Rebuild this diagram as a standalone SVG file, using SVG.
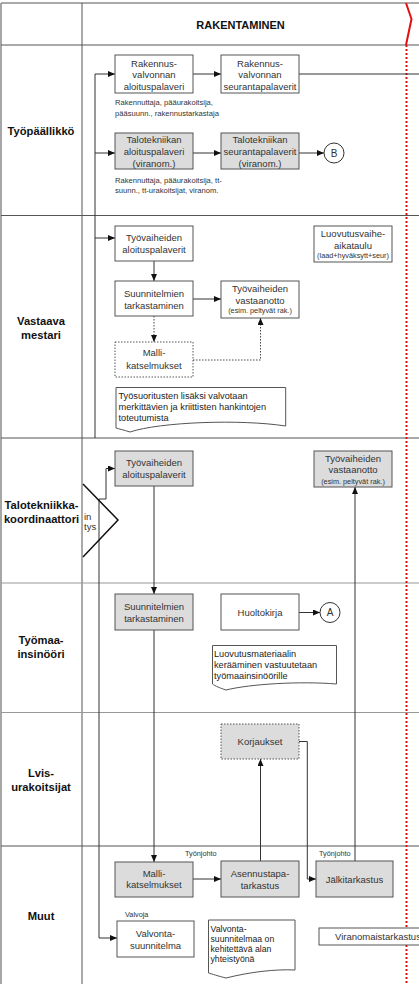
<svg xmlns="http://www.w3.org/2000/svg" width="419" height="984" viewBox="0 0 419 984">
<defs>
<marker id="a" markerWidth="7" markerHeight="6" refX="7" refY="3" orient="auto" markerUnits="userSpaceOnUse"><path d="M0,0 L7,3 L0,6z" fill="#111"/></marker>
<clipPath id="clipR"><rect x="0" y="0" width="419" height="984"/></clipPath>
</defs>
<style>
.bx{fill:#fff;stroke:#555;stroke-width:1}
.gb{fill:#dcdcdc;stroke:#555;stroke-width:1}
.dt{stroke-dasharray:1.5 1.5}
.t{font-family:"Liberation Sans",Arial,sans-serif;font-size:9.5px;fill:#333;text-anchor:middle}
.s{font-family:"Liberation Sans",Arial,sans-serif;font-size:7.3px;fill:#333;text-anchor:middle}
.sl{font-family:"Liberation Sans",Arial,sans-serif;font-size:7.6px;fill:#333}
.d{font-family:"Liberation Sans",Arial,sans-serif;font-size:9.2px;fill:#222}
.ln{font-family:"Liberation Sans",Arial,sans-serif;font-size:11.2px;font-weight:bold;fill:#111;text-anchor:middle}
.g{stroke:#555;stroke-width:1;fill:none}
.c{stroke:#333;stroke-width:1;fill:none}
.cd{stroke:#444;stroke-width:1;fill:none;stroke-dasharray:1.5 1.5}
</style>
<rect x="0" y="0" width="419" height="984" fill="#fff"/>
<g id="grid">
<line x1="1" y1="3" x2="419" y2="3" stroke="#aaa" stroke-width="2"/>
<line x1="1" y1="3" x2="1" y2="984" stroke="#888" stroke-width="1.5"/>
<line x1="82" y1="3" x2="82" y2="984" class="g"/>
<line x1="1" y1="45" x2="419" y2="45" class="g"/>
<line x1="1" y1="215.5" x2="419" y2="215.5" class="g"/>
<line x1="1" y1="438" x2="419" y2="438" class="g"/>
<line x1="1" y1="583" x2="419" y2="583" stroke="#999" stroke-width="1"/>
<line x1="1" y1="712.5" x2="419" y2="712.5" stroke="#999" stroke-width="1"/>
<line x1="1" y1="846" x2="419" y2="846" class="g"/>
<polyline points="406,3 411.5,19 406,45" fill="none" stroke="#e01010" stroke-width="2"/>
<line x1="406.5" y1="45" x2="406.5" y2="984" stroke="#e01010" stroke-width="2" stroke-dasharray="2 2"/>
<text x="240.5" y="28.5" class="ln" style="font-size:11px">RAKENTAMINEN</text>
</g>
<g id="lanes">
<text x="41" y="135" class="ln">Työpäällikkö</text>
<text x="41" y="324.5" class="ln">Vastaava</text>
<text x="41" y="339" class="ln">mestari</text>
<text x="41.5" y="509" class="ln">Talotekniikka-</text>
<text x="41.5" y="522.7" class="ln">koordinaattori</text>
<text x="41" y="644.3" class="ln">Työmaa-</text>
<text x="41" y="658" class="ln">insinööri</text>
<text x="41" y="777.3" class="ln">Lvis-</text>
<text x="41" y="790.7" class="ln">urakoitsijat</text>
<text x="41" y="920" class="ln">Muut</text>
</g>
<g id="connectors">
<polyline points="95,438 95,74 115,74" class="c" marker-end="url(#a)"/>
<line x1="95" y1="153" x2="115" y2="153" class="c" marker-end="url(#a)"/>
<line x1="95" y1="238" x2="115" y2="238" class="c" marker-end="url(#a)"/>
<line x1="193" y1="74" x2="221" y2="74" class="c" marker-end="url(#a)"/>
<line x1="299" y1="74" x2="419" y2="74" class="c"/>
<line x1="193" y1="153" x2="221" y2="153" class="c" marker-end="url(#a)"/>
<line x1="299" y1="153" x2="324" y2="153" class="c" marker-end="url(#a)"/>
<line x1="154" y1="261" x2="154" y2="281" class="c" marker-end="url(#a)"/>
<line x1="193" y1="299" x2="221" y2="299" class="c" marker-end="url(#a)"/>
<line x1="154" y1="316" x2="154" y2="342" class="cd" marker-end="url(#a)"/>
<polyline points="193,360 260.5,360 260.5,318" class="cd" marker-end="url(#a)"/>
<polyline points="106,499 106,468.5 115,468.5" class="c" marker-end="url(#a)"/>
<polyline points="106,499 99,499 99,938 117,938" class="c" marker-end="url(#a)"/>
<polyline points="83,484 118,520 83,557" fill="none" stroke="#111" stroke-width="1.5"/>
<line x1="154" y1="486" x2="154" y2="594" class="c" marker-end="url(#a)"/>
<line x1="355" y1="861" x2="355" y2="487" class="c" marker-end="url(#a)"/>
<line x1="299" y1="612.5" x2="320" y2="612.5" class="c" marker-end="url(#a)"/>
<line x1="154" y1="630" x2="154" y2="862" class="c" marker-end="url(#a)"/>
<line x1="260.5" y1="861" x2="260.5" y2="759" class="c" marker-end="url(#a)"/>
<polyline points="299,741.5 307.3,741.5 307.3,879 316,879" class="c" marker-end="url(#a)"/>
<line x1="193" y1="879" x2="221" y2="879" class="c" marker-end="url(#a)"/>
</g>
<g id="n-rv-aloitus"><rect x="115" y="55" width="78" height="38" class="bx"/>
<text class="t" x="154" y="66.7">Rakennus-</text><text class="t" x="154" y="78.4">valvonnan</text><text class="t" x="154" y="90">aloituspalaveri</text></g>
<g id="n-rv-seuranta"><rect x="221" y="55" width="78" height="38" class="bx"/>
<text class="t" x="260" y="66.7">Rakennus-</text><text class="t" x="260" y="78.4">valvonnan</text><text class="t" x="260" y="90">seurantapalaverit</text></g>
<g id="note1"><text class="sl" x="115" y="105">Rakennuttaja, pääurakoitsija,</text><text class="sl" x="115" y="115.5">pääsuunn., rakennustarkastaja</text></g>
<g id="n-tt-aloitus"><rect x="115" y="133" width="78" height="36" class="gb"/>
<text class="t" x="154" y="143.2">Talotekniikan</text><text class="t" x="154" y="155">aloituspalaveri</text><text class="t" x="154" y="166.6">(viranom.)</text></g>
<g id="n-tt-seuranta"><rect x="221" y="133" width="78" height="36" class="gb"/>
<text class="t" x="260" y="143.2">Talotekniikan</text><text class="t" x="260" y="155">seurantapalaverit</text><text class="t" x="260" y="166.6">(viranom.)</text></g>
<g id="n-B"><circle cx="334" cy="153" r="10" fill="#fff" stroke="#333"/><text class="t" x="334" y="156.8" style="font-size:10px">B</text></g>
<g id="note2"><text class="sl" x="115" y="183">Rakennuttaja, pääurakoitsija, tt-</text><text class="sl" x="115" y="192.5">suunn., tt-urakoitsijat, viranom.</text></g>
<g id="n-vm-aloitus"><rect x="115" y="226" width="78" height="35" class="bx"/>
<text class="t" x="154" y="241.4">Työvaiheiden</text><text class="t" x="154" y="252.6">aloituspalaverit</text></g>
<g id="n-vm-suunn"><rect x="115" y="281" width="78" height="35" class="bx"/>
<text class="t" x="154" y="297.4">Suunnitelmien</text><text class="t" x="154" y="309">tarkastaminen</text></g>
<g id="n-vm-vastaanotto"><rect x="221" y="281" width="78" height="37" class="bx"/>
<text class="t" x="260" y="292.4">Työvaiheiden</text><text class="t" x="260" y="304">vastaanotto</text><text class="s" x="260" y="313.4">(esim. peltyvät rak.)</text></g>
<g id="n-luovutus"><rect x="314" y="226" width="78" height="36" class="bx"/>
<text class="t" x="353" y="237.4">Luovutusvaihe-</text><text class="t" x="353" y="248.6">aikataulu</text><text class="s" x="353" y="258.4">(laad+hyväksytt+seur)</text></g>
<g id="n-vm-malli"><rect x="115" y="342" width="78" height="35" class="bx dt"/>
<text class="t" x="154" y="356.4">Malli-</text><text class="t" x="154" y="368.7">katselmukset</text></g>
<g id="doc-vm"><path d="M116,387.5 H285.7 V426 C240,419 160,422 130,432 C124,430 119,429 116,428 Z" class="bx"/>
<text class="d" x="118.5" y="399.4">Työsuoritusten lisäksi valvotaan</text><text class="d" x="118.5" y="410.4">merkittävien ja kriittisten hankintojen</text><text class="d" x="118.5" y="421">toteutumista</text></g>
<g id="note-in"><text class="t" x="84" y="519.5" style="text-anchor:start">in</text><text class="t" x="84" y="530" style="text-anchor:start">tys</text></g>
<g id="n-tk-aloitus"><rect x="115" y="451" width="78" height="35" class="gb"/>
<text class="t" x="154" y="466.4">Työvaiheiden</text><text class="t" x="154" y="478">aloituspalaverit</text></g>
<g id="n-tk-vastaanotto"><rect x="314" y="451" width="78" height="36" class="gb"/>
<text class="t" x="353" y="462">Työvaiheiden</text><text class="t" x="353" y="473.2">vastaanotto</text><text class="s" x="353" y="483.6">(esim. peltyvät rak.)</text></g>
<g id="n-ti-suunn"><rect x="115" y="594" width="78" height="36" class="gb"/>
<text class="t" x="154" y="610.4">Suunnitelmien</text><text class="t" x="154" y="622">tarkastaminen</text></g>
<g id="n-huolto"><rect x="221" y="594" width="78" height="36" class="bx"/>
<text class="t" x="260" y="616">Huoltokirja</text></g>
<g id="n-A"><circle cx="330" cy="612.5" r="10" fill="#fff" stroke="#333"/><text class="t" x="330" y="616.3" style="font-size:10px">A</text></g>
<g id="doc-ti"><path d="M212.5,645.5 H336.5 V684 C300,681 250,684 226,690 C220,688 215,686 212.5,684 Z" class="bx"/>
<text class="d" x="214" y="657">Luovutusmateriaalin</text><text class="d" x="214" y="667.8">kerääminen vastuutetaan</text><text class="d" x="214" y="678.6">työmaainsinöörille</text></g>
<g id="n-korjaukset"><rect x="221" y="724" width="78" height="35" class="gb dt"/>
<text class="t" x="260" y="745">Korjaukset</text></g>
<g id="lbl-tyonjohto"><text class="sl" x="185" y="856" style="font-size:7.3px">Työnjohto</text><text class="sl" x="319" y="856" style="font-size:7.3px">Työnjohto</text></g>
<g id="n-mu-malli"><rect x="115" y="862" width="78" height="35" class="gb"/>
<text class="t" x="154" y="876.7">Malli-</text><text class="t" x="154" y="888.4">katselmukset</text></g>
<g id="n-asennus"><rect x="221" y="861" width="78" height="36" class="gb"/>
<text class="t" x="260" y="877.4">Asennustapa-</text><text class="t" x="260" y="888.6">tarkastus</text></g>
<g id="n-jalki"><rect x="316" y="861" width="77" height="36" class="gb"/>
<text class="t" x="354.5" y="883.4">Jälkitarkastus</text></g>
<g id="lbl-valvoja"><text class="sl" x="125" y="917" style="font-size:7.3px">Valvoja</text></g>
<g id="n-valvonta"><rect x="117" y="921" width="77" height="36" class="bx"/>
<text class="t" x="155.5" y="936.7">Valvonta-</text><text class="t" x="155.5" y="949.4">suunnitelma</text></g>
<g id="doc-mu"><path d="M208.5,920 H295 V970 C275,969 250,972 226,978 C218,976 212,974 208.5,973 Z" class="bx"/>
<text class="d" x="210.5" y="931.5" style="font-size:8.7px">Valvonta-</text><text class="d" x="210.5" y="941.5" style="font-size:8.7px">suunnitelmaa on</text><text class="d" x="210.5" y="951.5" style="font-size:8.7px">kehitettävä alan</text><text class="d" x="210.5" y="961.5" style="font-size:8.7px">yhteistyönä</text></g>
<g id="n-viranomais" clip-path="url(#clipR)"><rect x="319" y="928" width="110" height="17" class="bx"/>
<text class="t" x="335" y="940" style="text-anchor:start">Viranomaistarkastus</text></g>
</svg>
